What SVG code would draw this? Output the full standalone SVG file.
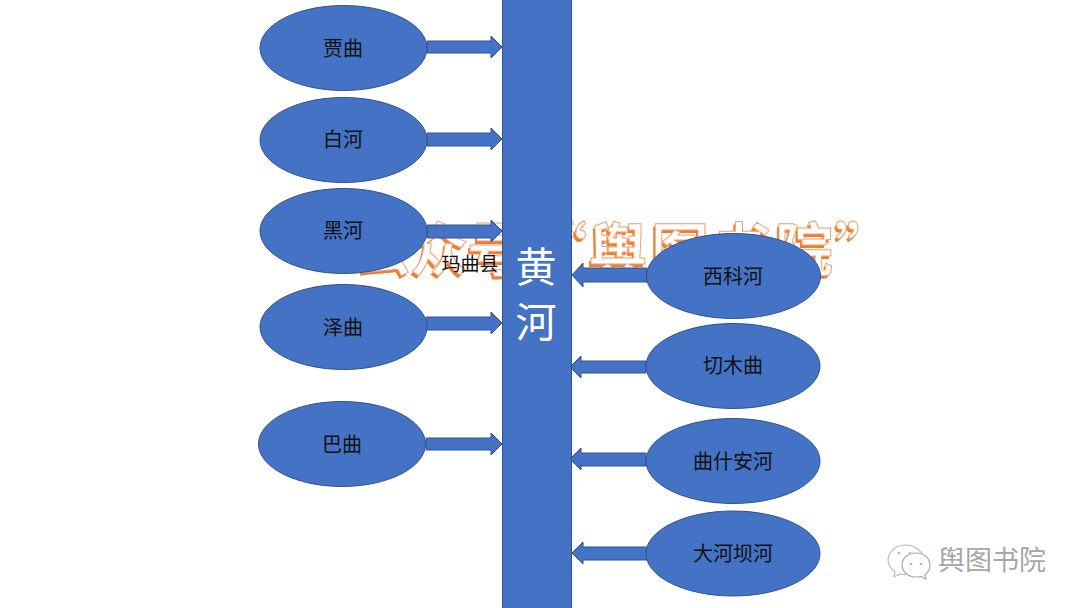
<svg xmlns="http://www.w3.org/2000/svg" width="1080" height="608" viewBox="0 0 1080 608">
<style>
.n{fill:#4472c4;stroke:#2f528f;stroke-width:1}
.a{fill:#4472c4;stroke:#2f528f;stroke-width:1}
text{font-family:"Noto Sans CJK SC","Noto Sans",sans-serif}
.t{font-size:20px;fill:#111;text-anchor:middle}
.w1{font-size:58px;font-weight:700;fill:#ed7d31}
.w2{font-size:58px;font-weight:700;fill:#fff;stroke:#f2a06a;stroke-width:1}
</style>
<rect width="1080" height="608" fill="#fff"/>
<g id="watermark">
<text class="w1" x="352 408 465 527 587 649 711 773 833" y="274">公众号“舆图书院”</text>
<text class="w2" x="354 410 467 529 589 651 713 775 835" y="271">公众号“舆图书院”</text>
</g>
<g id="connectors">
<path class="a" d="M427 41H491V36L502 47L491 58V53H427Z"/>
<path class="a" d="M427 133H491V128L502 139L491 150V146H427Z"/>
<path class="a" d="M427 225H491V220L502 231L491 242V238H427Z"/>
<path class="a" d="M426 317H491V312L502 323L491 334V330H426Z"/>
<path class="a" d="M426 438H491V433L502 444L491 455V450H426Z"/>
<path class="a" d="M647 268H583V263L572 275L583 287V282H647Z"/>
<path class="a" d="M646 361H581V356L570 367L581 378V373H646Z"/>
<path class="a" d="M646 453H581V448L570 459L581 470V466H646Z"/>
<path class="a" d="M647 547H583V542L572 553L583 564V560H647Z"/>
</g>
<g id="n-maqu"><text class="t" x="470" y="271" style="font-size:19px">玛曲县</text></g>
<g id="n-huanghe"><rect class="n" x="502.500" y="-1" width="69" height="611"/>
<text x="536" y="282" font-size="41" fill="#fff" text-anchor="middle">黄</text>
<text x="536" y="337" font-size="41" fill="#fff" text-anchor="middle">河</text></g>
<g id="n-jiaqu"><ellipse class="n" cx="343.500" cy="48" rx="83.500" ry="42.500"/><text class="t" x="343" y="56">贾曲</text></g>
<g id="n-baihe"><ellipse class="n" cx="343.500" cy="140" rx="83.500" ry="42.500"/><text class="t" x="343" y="147">白河</text></g>
<g id="n-heihe"><ellipse class="n" cx="343.500" cy="231" rx="83.500" ry="42.500"/><text class="t" x="343" y="238">黑河</text></g>
<g id="n-zequ"><ellipse class="n" cx="343.500" cy="327" rx="83.500" ry="42.500"/><text class="t" x="343" y="335">泽曲</text></g>
<g id="n-baqu"><ellipse class="n" cx="342" cy="444" rx="83.500" ry="42.500"/><text class="t" x="342" y="452">巴曲</text></g>
<g id="n-xikehe"><ellipse class="n" cx="733.500" cy="276" rx="87" ry="42.500"/><text class="t" x="733" y="284">西科河</text></g>
<g id="n-qiemuqu"><ellipse class="n" cx="733" cy="366" rx="87" ry="42.500"/><text class="t" x="733" y="373">切木曲</text></g>
<g id="n-qushi"><ellipse class="n" cx="733" cy="461" rx="87" ry="42.500"/><text class="t" x="733" y="469">曲什安河</text></g>
<g id="n-dahe"><ellipse class="n" cx="733" cy="553.500" rx="87" ry="42.500"/><text class="t" x="733" y="561">大河坝河</text></g>
<g id="wechat-logo">
<path d="M906 545c-10 0-18 7-18 15 0 5 3 9 7 12l-1 5 6-3c2 .5 4 .7 6 .6" fill="#fff" stroke="#bbb" stroke-width="1.200"/>
<path d="M906 545c8 0 15 5 17 11" fill="none" stroke="#bbb" stroke-width="1.200"/>
<path d="M916 553c-8 0-14 5.500-14 12s6 12 14 12c2 0 3 0 5-.6l5 2.600-1-4.500c3-2 5-5.500 5-9.500 0-6.500-6-12-14-12z" fill="#fff" stroke="#aaa" stroke-width="1.200"/>
<circle cx="899" cy="553" r="1.300" fill="#bbb"/><circle cx="910" cy="553" r="1.300" fill="#bbb"/>
<circle cx="911" cy="564" r="1.300" fill="#bbb"/><circle cx="921" cy="564" r="1.300" fill="#bbb"/>
</g>
<text id="wechat-name" x="938" y="570" font-size="27" fill="#a6a6a6">舆图书院</text>
</svg>
